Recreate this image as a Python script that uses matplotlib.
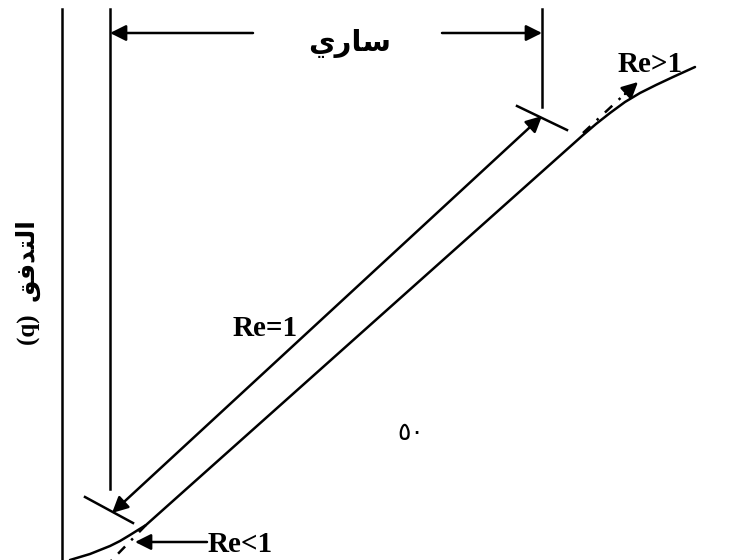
import matplotlib
matplotlib.use("Agg")
import matplotlib.pyplot as plt

# منحنى التدفق مقابل الميل الهيدروليكي (وحدات اختيارية)
gradient = [8, 18, 28, 38, 48, 58, 68, 76, 84,
            520, 534, 548, 563, 578, 594, 611, 633]
flow = [0, 3, 6, 10, 14, 19, 25, 30, 35,
        424, 436, 447, 458, 467, 475, 483, 493]

# حدود مجال صلاحية دارسي
valid_lo = 48
valid_hi = 480

# النصوص
label_valid = '\uFEF1\uFEAD\uFE8E\uFEB3'            # ساري (بترتيب العرض)
label_flow = '(q)  ' + '\uFED6\uFED3\uFEAA\uFE98\uFEDF\uFE8D'   # التدفق (q)
label_re_eq = 'Re=1'
label_re_gt = 'Re>1'
label_re_lt = 'Re<1'
label_page = '\u0665\u0660'

fig = plt.figure(figsize=(7.5, 5.6), dpi=100)
ax = fig.add_axes([62 / 750, 0, 688 / 750, 1])
ax.set_xlim(0, 688)
ax.set_ylim(0, 560)
for s in ['top', 'right', 'bottom']:
    ax.spines[s].set_visible(False)
ax.spines['left'].set_linewidth(1.8)
ax.spines['left'].set_bounds(0, 551)
ax.set_xticks([])
ax.set_yticks([])

lw = 1.8
# المنحنى
ax.plot(gradient, flow, color='black', lw=lw, solid_capstyle='round')

# امتدادات الخط المستقيم (شرطة-نقطة)
ax.plot([84, 48], [35, -2], color='black', lw=lw, dashes=[4, 3.5, 1, 3.5])
ax.plot([521, 566], [427, 469], color='black', lw=lw, dashes=[4, 3.5, 1, 3.5])
ax.annotate('', xy=(576, 478), xytext=(563, 466),
            arrowprops=dict(arrowstyle='-|>', color='black', lw=lw,
                            mutation_scale=24, shrinkA=0, shrinkB=0))

# خطوط الحدود الرأسية
ax.plot([valid_lo, valid_lo], [71, 551], color='black', lw=lw)
ax.plot([valid_hi, valid_hi], [453, 551], color='black', lw=lw)

# سهم ساري
arr = dict(arrowstyle='-|>', color='black', lw=lw, mutation_scale=24,
           shrinkA=0, shrinkB=0)
ax.annotate('', xy=(valid_lo, 527), xytext=(191, 527), arrowprops=arr)
ax.annotate('', xy=(valid_hi, 527), xytext=(380, 527), arrowprops=arr)
ax.text(288, 516, label_valid, ha='center', va='center', fontsize=21,
        fontweight='bold', family=['DejaVu Sans'])

# سهم Re=1 المزدوج مع العلامتين
ax.annotate('', xy=(valid_lo + 2, 47), xytext=(valid_hi, 444),
            arrowprops=dict(arrowstyle='<|-|>', color='black', lw=lw,
                            mutation_scale=24, shrinkA=0, shrinkB=0))
ax.plot([23, 71], [63, 37], color='black', lw=lw)
ax.plot([455, 505], [454, 430], color='black', lw=lw)

# سهم Re<1
ax.annotate('', xy=(73, 18), xytext=(145, 18), arrowprops=arr)

serif = ['Liberation Serif', 'DejaVu Serif']
ax.text(203, 232, label_re_eq, ha='center', va='center', fontsize=21,
        fontweight='bold', family=serif)
ax.text(588, 495, label_re_gt, ha='center', va='center', fontsize=21,
        fontweight='bold', family=serif)
ax.text(146, 16, label_re_lt, ha='left', va='center', fontsize=21,
        fontweight='bold', family=serif)
ax.text(349, 127, label_page, ha='center', va='center', fontsize=18,
        family=['DejaVu Sans'])

ax.text(-34, 277, label_flow, ha='center', va='center', rotation=90,
        fontsize=18, fontweight='bold',
        family=['Liberation Serif', 'DejaVu Sans'], clip_on=False)

fig.savefig('out.png', dpi=100)
